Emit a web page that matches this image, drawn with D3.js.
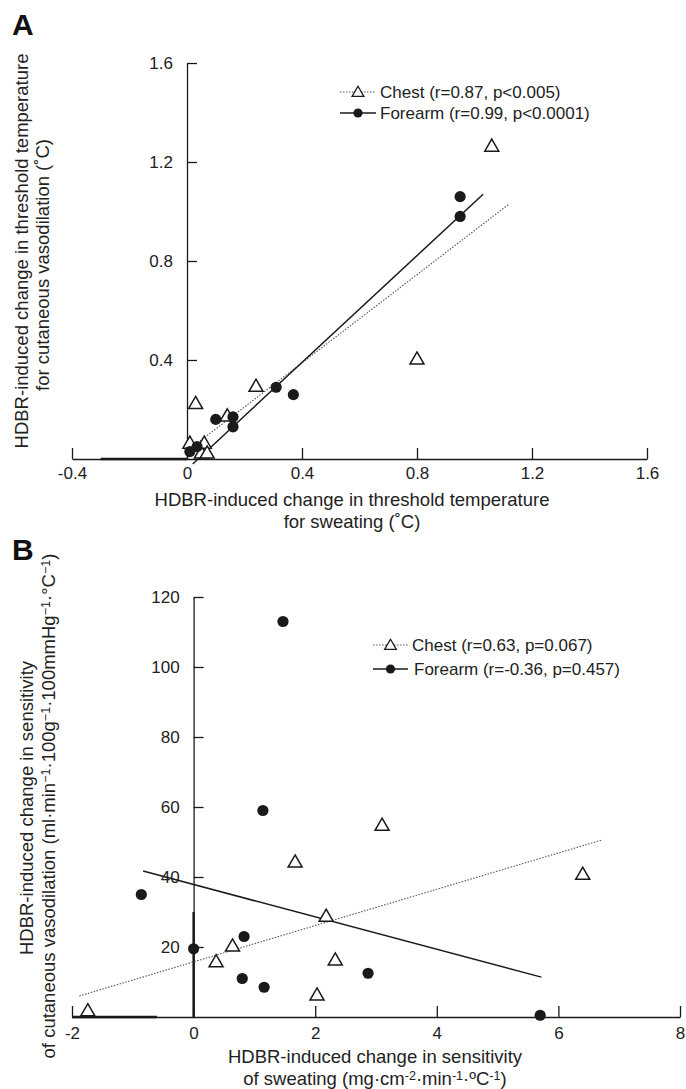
<!DOCTYPE html>
<html>
<head>
<meta charset="utf-8">
<script src="https://cdn.jsdelivr.net/npm/d3@7"></script>
<style>
  body { margin: 0; background: #fff; }
  svg { display: block; font-family: "Liberation Sans", Arial, Helvetica, sans-serif; }
</style>
</head>
<body>
<div class="canvas-graph"></div>
<script>
// ---- panel A: threshold temperature (deg C) ----
const chestA = [[0.01, 0.06], [0.03, 0.22], [0.05, 0.02], [0.06, 0.06], [0.07, 0.02],
                [0.14, 0.17], [0.24, 0.29], [0.80, 0.40], [1.06, 1.26]];
const forearmA = [[0.01, 0.03], [0.035, 0.05], [0.10, 0.16], [0.16, 0.13], [0.16, 0.17],
                  [0.31, 0.29], [0.37, 0.26], [0.95, 0.98], [0.95, 1.06]];
const chestFitA = [[0.02, 0.05], [1.12, 1.03]];
const forearmFitA = [[0.02, -0.02], [1.03, 1.07]];
const extraA = [[[-0.3, 0], [0, 0]]];
const xTicksA = [-0.4, 0, 0.4, 0.8, 1.2, 1.6];
const yTicksA = [0.4, 0.8, 1.2, 1.6];
const legendA = ['Chest (r=0.87, p<0.005)', 'Forearm (r=0.99, p<0.0001)'];

// ---- panel B: sensitivity ----
const chestB = [[-1.74, 1.5], [0.37, 15.5], [0.64, 20], [1.67, 44], [2.03, 6],
                [2.18, 28.5], [2.33, 16], [3.1, 54.5], [6.4, 40.5]];
const forearmB = [[-0.86, 35], [0, 19.5], [0.8, 11], [0.83, 23], [1.14, 59],
                  [1.16, 8.5], [1.47, 113], [2.87, 12.5], [5.7, 0.5]];
const chestFitB = [[-1.88, 6], [6.72, 50.6]];
const forearmFitB = [[-0.83, 41.7], [5.72, 11.4]];
const extraB = [[[-2, 0], [-0.6, 0]], [[0, 0], [0, 30]]];
const xTicksB = [-2, 0, 2, 4, 6, 8];
const yTicksB = [20, 40, 60, 80, 100, 120];
const legendB = ['Chest (r=0.63, p=0.067)', 'Forearm (r=-0.36, p=0.457)'];

const dims = { width: 686, height: 1089 };
const ink = '#1a1a1a';

const svg = d3.select('.canvas-graph')
    .append('svg')
    .attr('width', dims.width)
    .attr('height', dims.height);

const tri = d3.symbol().type(d3.symbolTriangle);

// text made of plain / superscript pieces
const richText = (sel, parts) => {
    parts.forEach(([t, sup]) => {
        sel.append('tspan')
            .attr('font-size', sup ? '0.68em' : null)
            .attr('baseline-shift', sup ? '38%' : null)
            .text(t);
    });
};

const panel = cfg => {
    const x = d3.scaleLinear().domain(cfg.xDomain).range(cfg.xRange);
    const y = d3.scaleLinear().domain(cfg.yDomain).range(cfg.yRange);
    const g = svg.append('g');

    const xAxis = g.append('g')
        .attr('transform', `translate(0, ${y(0)})`)
        .call(d3.axisBottom(x).tickValues(cfg.xTicks).tickFormat(cfg.fmt)
            .tickSizeInner(-11).tickSizeOuter(0).tickPadding(cfg.xPad));
    const yAxis = g.append('g')
        .attr('transform', `translate(${x(0)}, 0)`)
        .call(d3.axisLeft(y).tickValues(cfg.yTicks).tickFormat(cfg.fmt)
            .tickSizeInner(-10).tickSizeOuter(0).tickPadding(14));
    [xAxis, yAxis].forEach(a => {
        a.attr('font-family', null).attr('font-size', 17).attr('color', ink);
        a.selectAll('path, line').attr('stroke-width', 1.3);
        a.selectAll('text').attr('fill', '#222');
    });

    // heavier segments on the axes
    g.selectAll('.extra').data(cfg.extra).enter()
        .append('line')
        .attr('x1', d => x(d[0][0])).attr('y1', d => y(d[0][1]))
        .attr('x2', d => x(d[1][0])).attr('y2', d => y(d[1][1]))
        .attr('stroke', ink).attr('stroke-width', 2.4);

    // fit lines
    const line = d3.line().x(d => x(d[0])).y(d => y(d[1]));
    g.append('path').attr('d', line(cfg.chestFit))
        .attr('fill', 'none').attr('stroke', '#555').attr('stroke-width', 1.1)
        .attr('stroke-dasharray', '1.5,1.5');
    g.append('path').attr('d', line(cfg.forearmFit))
        .attr('fill', 'none').attr('stroke', ink).attr('stroke-width', 1.5);

    g.selectAll('.tri').data(cfg.chest).enter()
        .append('path')
        .attr('d', tri.size(85)())
        .attr('transform', d => `translate(${x(d[0])}, ${y(d[1])})`)
        .attr('fill', '#fff').attr('stroke', ink).attr('stroke-width', 1.5);
    g.selectAll('.dot').data(cfg.forearm).enter()
        .append('circle')
        .attr('cx', d => x(d[0])).attr('cy', d => y(d[1])).attr('r', 5.6)
        .attr('fill', ink);

    // legend
    const lg = g.append('g').attr('transform', `translate(${cfg.legendPos[0]}, ${cfg.legendPos[1]})`);
    cfg.legend.forEach((label, i) => {
        const row = lg.append('g').attr('transform', `translate(0, ${i * cfg.legendGap})`);
        row.append('line').attr('x1', 0).attr('x2', cfg.legendLen)
            .attr('stroke', i ? ink : '#555')
            .attr('stroke-width', i ? 1.5 : 1.1)
            .attr('stroke-dasharray', i ? null : '1.5,1.5');
        if (i) {
            row.append('circle').attr('cx', cfg.legendLen / 2).attr('r', 4.6).attr('fill', ink);
        } else {
            row.append('path').attr('d', tri.size(60)())
                .attr('transform', `translate(${cfg.legendLen / 2}, 1)`)
                .attr('fill', '#fff').attr('stroke', ink).attr('stroke-width', 1.3);
        }
        row.append('text').attr('x', cfg.legendLen + 4 + i * cfg.legendShift).attr('dy', '0.35em')
            .attr('font-size', 17).attr('fill', '#222').text(label);
    });

    // axis titles
    const title = g.append('g').attr('font-size', 18.5).attr('fill', '#222').attr('text-anchor', 'middle');
    cfg.xTitle.forEach((parts, i) => {
        const t = title.append('text')
            .attr('x', cfg.xTitlePos[0]).attr('y', cfg.xTitlePos[1] + i * 22).attr('dy', '0.35em');
        richText(t, parts);
    });
    cfg.yTitle.forEach((parts, i) => {
        const t = title.append('text')
            .attr('transform', `translate(${cfg.yTitlePos[i][0]}, ${cfg.yTitlePos[i][1]}) rotate(-90)`)
            .attr('dy', '0.35em');
        richText(t, parts);
    });

    svg.append('text').attr('x', 12).attr('y', cfg.letterY)
        .attr('font-size', 30).attr('font-weight', 'bold').attr('fill', '#111')
        .text(cfg.letter);
};

panel({
    letter: 'A', letterY: 35,
    xDomain: [-0.4, 1.6], xRange: [72, 647],
    yDomain: [0, 1.6], yRange: [459, 63],
    xTicks: xTicksA, yTicks: yTicksA, xPad: 8,
    fmt: d => d === 0 ? '0' : d.toFixed(1),
    chest: chestA, forearm: forearmA,
    chestFit: chestFitA, forearmFit: forearmFitA, extra: extraA,
    legend: legendA, legendPos: [340, 92], legendGap: 21, legendLen: 36, legendShift: 0,
    xTitle: [[['HDBR-induced change in threshold temperature']], [['for sweating (˚C)']]],
    xTitlePos: [352, 500],
    yTitle: [[['HDBR-induced change  in threshold temperature']], [['for cutaneous vasodilation (˚C)']]],
    yTitlePos: [[22, 251], [43, 265]]
});

panel({
    letter: 'B', letterY: 560,
    xDomain: [-2, 8], xRange: [72, 680],
    yDomain: [0, 120], yRange: [1017, 597],
    xTicks: xTicksB, yTicks: yTicksB, xPad: 10,
    fmt: d => String(d),
    chest: chestB, forearm: forearmB,
    chestFit: chestFitB, forearmFit: forearmFitB, extra: extraB,
    legend: legendB, legendPos: [373, 645], legendGap: 24, legendLen: 35, legendShift: 2,
    xTitle: [[['HDBR-induced change in sensitivity']],
             [['of sweating (mg·cm'], ['-2', true], ['·min'], ['-1', true], ['·ºC'], ['-1', true], [')']]],
    xTitlePos: [375, 1057],
    yTitle: [[['HDBR-induced change in sensitivity']],
             [['of cutaneous vasodilation (ml·min'], ['−1', true], ['·100g'], ['−1', true],
              ['·100mmHg'], ['−1', true], ['·°C'], ['−1', true], [')']]],
    yTitlePos: [[27, 808], [49, 806]]
});
</script>
</body>
</html>
